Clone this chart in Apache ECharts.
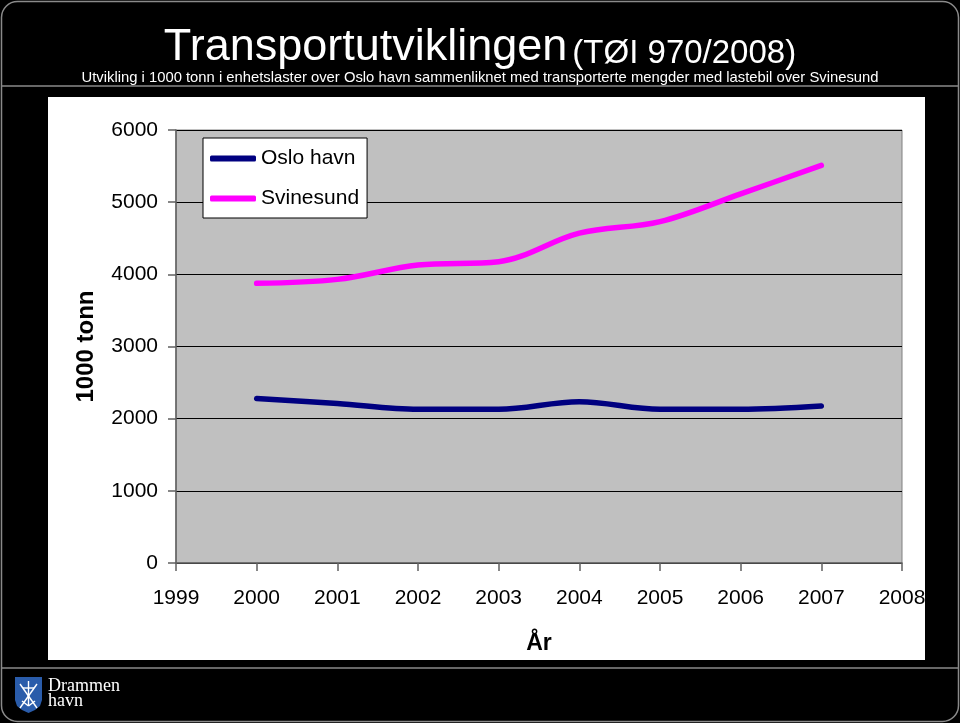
<!DOCTYPE html>
<html>
<head>
<meta charset="utf-8">
<script src="https://cdn.jsdelivr.net/npm/echarts@6/dist/echarts.min.js"></script>
<style>
html,body{margin:0;padding:0;background:#000;}
#chart{width:960px;height:723px;}
</style>
</head>
<body>
<div id="chart"></div>
<script>
var years = [2000, 2001, 2002, 2003, 2004, 2005, 2006, 2007];
var osloHavn = [2280, 2210, 2130, 2130, 2235, 2130, 2130, 2175];
var svinesund = [3875, 3930, 4130, 4175, 4570, 4730, 5115, 5510];
var xMin = 1999, xMax = 2008;
var yMin = 0, yMax = 6000, yStep = 1000;

function pairs(vals) { return years.map(function (y, i) { return [y, vals[i]]; }); }

var chart = echarts.init(document.getElementById('chart'));
var font = 'Liberation Sans, Arial, sans-serif';
function wline(x1, y1, x2, y2) {
  return { type: 'line', z: -4, silent: true, shape: { x1: x1, y1: y1, x2: x2, y2: y2 },
    style: { stroke: '#fff', lineWidth: 1.4 } };
}
chart.setOption({
  backgroundColor: '#000',
  animation: false,
  title: [{
    text: '{a|Transportutviklingen} {b|(TØI 970/2008)}',
    left: 'center', top: 17,
    textStyle: {
      fontFamily: font, fontWeight: 'normal',
      rich: {
        a: { fontSize: 45, lineHeight: 48, color: '#fff', fontFamily: font, fontWeight: 'normal', verticalAlign: 'bottom' },
        b: { fontSize: 33, lineHeight: 48, color: '#fff', fontFamily: font, fontWeight: 'normal', verticalAlign: 'bottom' }
      }
    }
  }, {
    text: 'Utvikling i 1000 tonn i enhetslaster over Oslo havn sammenliknet med transporterte mengder med lastebil over Svinesund',
    left: 'center', top: 65,
    textStyle: { fontSize: 14.8, fontWeight: 'normal', color: '#fff', fontFamily: font }
  }],
  graphic: [
    { type: 'rect', z: -10, silent: true,
      shape: { x: 1.5, y: 1.5, width: 957, height: 720, r: 16 },
      style: { fill: '#000', stroke: '#8a8a8a', lineWidth: 1.5 } },
    { type: 'line', z: -9, silent: true, shape: { x1: 2, y1: 86, x2: 958, y2: 86 },
      style: { stroke: '#8a8a8a', lineWidth: 1.5 } },
    { type: 'line', z: -9, silent: true, shape: { x1: 2, y1: 668, x2: 958, y2: 668 },
      style: { stroke: '#8a8a8a', lineWidth: 1.5 } },
    { type: 'rect', z: -8, silent: true,
      shape: { x: 48, y: 97, width: 877, height: 563 },
      style: { fill: '#fff' } },
    { type: 'polygon', z: -5, silent: true,
      shape: { points: [[15, 677], [42, 677], [42, 700], [40, 706], [35, 710], [28.5, 713], [22, 710], [17, 706], [15, 700]] },
      style: { fill: '#2a5caa' } },
    wline(28.5, 681, 28.5, 706),
    wline(23, 688, 34, 688),
    wline(20, 684, 37, 708),
    wline(37, 684, 20, 708),
    wline(22, 701, 28.5, 706),
    wline(35, 701, 28.5, 706),
    { type: 'text', z: -4, silent: true, left: 48, top: 677,
      style: { text: 'Drammen', fill: '#fff', font: '18px "Liberation Serif", "DejaVu Serif", serif' } },
    { type: 'text', z: -4, silent: true, left: 48, top: 692,
      style: { text: 'havn', fill: '#fff', font: '18px "Liberation Serif", "DejaVu Serif", serif' } }
  ],
  legend: {
    left: 203, top: 138,
    orient: 'vertical',
    backgroundColor: '#fff',
    borderColor: '#000', borderWidth: 1,
    padding: [10, 8, 9, 7],
    itemGap: 19,
    itemWidth: 46, itemHeight: 6,
    icon: 'roundRect',
    textStyle: { fontSize: 21, color: '#000', fontFamily: font },
    data: ['Oslo havn', 'Svinesund']
  },
  grid: {
    left: 176, right: 58, top: 130, bottom: 160,
    show: true, backgroundColor: '#c0c0c0', borderColor: '#808080', borderWidth: 1
  },
  xAxis: {
    type: 'value', min: xMin, max: xMax, interval: 1,
    name: 'År', nameLocation: 'middle', nameGap: 69,
    nameTextStyle: { fontSize: 23, fontWeight: 'bold', color: '#000', fontFamily: font },
    axisLine: { show: true, lineStyle: { color: '#606060', width: 1.5 } },
    axisTick: { show: true, length: 8, lineStyle: { color: '#606060', width: 1.5 } },
    axisLabel: { fontSize: 21, color: '#000', fontFamily: font, margin: 25,
      formatter: function (v) { return String(v); } },
    splitLine: { show: false }
  },
  yAxis: {
    type: 'value', min: yMin, max: yMax, interval: yStep,
    name: '1000 tonn', nameLocation: 'middle', nameGap: 78, nameRotate: 90,
    nameTextStyle: { fontSize: 24, fontWeight: 'bold', color: '#000', fontFamily: font },
    axisLine: { show: true, lineStyle: { color: '#606060', width: 1.5 } },
    axisTick: { show: true, length: 8, lineStyle: { color: '#606060', width: 1.5 } },
    axisLabel: { fontSize: 21, color: '#000', fontFamily: font, margin: 18,
      formatter: function (v) { return String(v); } },
    splitLine: { show: true, lineStyle: { color: '#000', width: 1 } }
  },
  series: [{
    name: 'Oslo havn', type: 'line', data: pairs(osloHavn),
    smooth: 0.35, showSymbol: false, symbol: 'none',
    color: '#000080',
    lineStyle: { color: '#000080', width: 5.5, cap: 'round', join: 'round' }
  }, {
    name: 'Svinesund', type: 'line', data: pairs(svinesund),
    smooth: 0.35, showSymbol: false, symbol: 'none',
    color: '#ff00ff',
    lineStyle: { color: '#ff00ff', width: 5.5, cap: 'round', join: 'round' }
  }]
});
</script>
</body>
</html>
